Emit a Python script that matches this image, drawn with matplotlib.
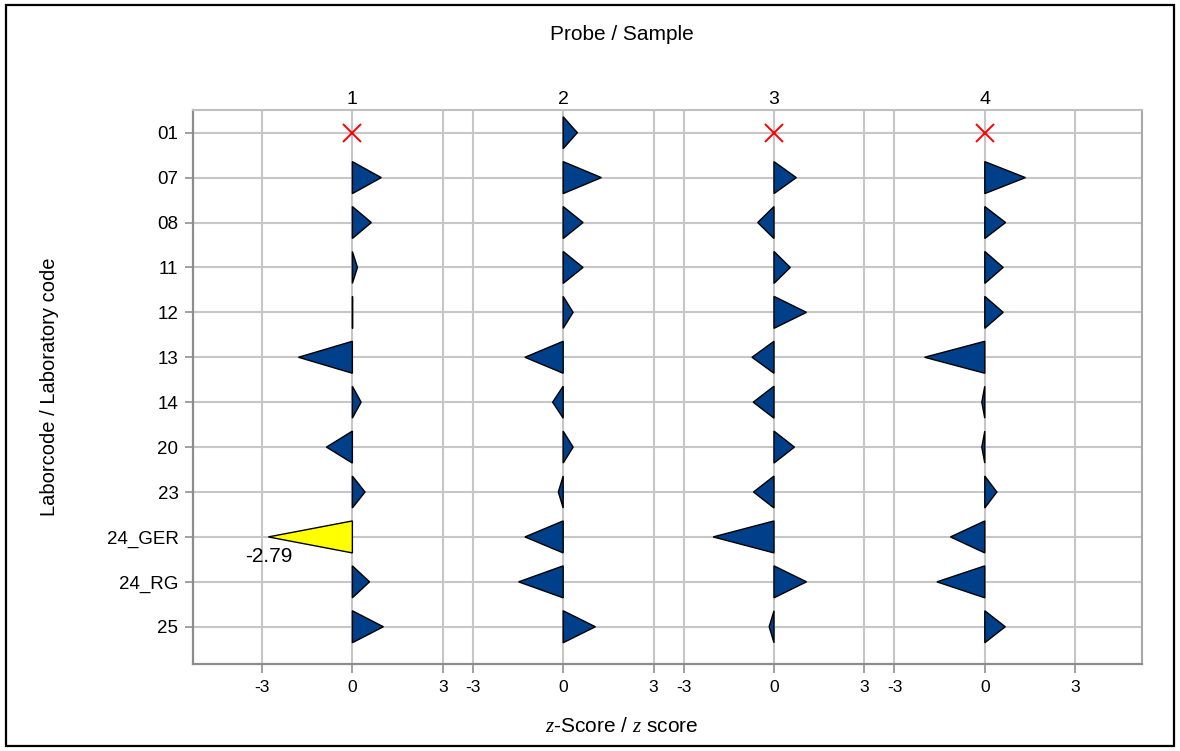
import matplotlib.pyplot as plt
import matplotlib.transforms as mtransforms
from matplotlib.patches import Polygon, Rectangle

plt.rcParams['font.family'] = ['Liberation Sans', 'DejaVu Sans']
plt.rcParams['mathtext.fontset'] = 'custom'
plt.rcParams['mathtext.it'] = 'Liberation Serif:italic'
plt.rcParams['mathtext.rm'] = 'Liberation Sans'

# Labs (rows) and z-scores per probe; None = no result
labs = ["01", "07", "08", "11", "12", "13", "14", "20", "23", "24_GER", "24_RG", "25"]
probes = ["1", "2", "3", "4"]
z_probe1 = [None, 0.96, 0.63, 0.17, 0.0, -1.79, 0.29, -0.86, 0.42, -2.79, 0.57, 1.03]
z_probe2 = [0.47, 1.27, 0.66, 0.66, 0.33, -1.27, -0.35, 0.33, -0.16, -1.27, -1.48, 1.07]
z_probe3 = [None, 0.74, -0.54, 0.54, 1.08, -0.73, -0.69, 0.68, -0.68, -2.02, 1.08, -0.16]
z_probe4 = [None, 1.35, 0.69, 0.61, 0.61, -2.0, -0.1, -0.1, 0.40, -1.14, -1.59, 0.68]
tick_vals = [-3, 0, 3]

scores = [z_probe1, z_probe2, z_probe3, z_probe4]
spacing = 7
half_h = 0.356
flag_limit = 2.5

fig = plt.figure(figsize=(11.8, 7.51), dpi=100)
ax = fig.add_axes([0.1636, 0.1158, 0.8042, 0.7377])

xticks, xlabels = [], []
for i, zs in enumerate(scores):
    off = i * spacing
    for t in tick_vals:
        xticks.append(off + t)
        xlabels.append(str(t))
    for row, z in enumerate(zs):
        if z is None:
            ax.plot(off, row, marker='x', color='red', markersize=13, mew=1.4,
                    zorder=4)
            continue
        face = '#ffff00' if abs(z) > flag_limit else '#003f8a'
        tri = Polygon([(off, row - half_h), (off, row + half_h), (off + z, row)],
                      closed=True, facecolor=face, edgecolor='black', lw=1.0,
                      zorder=3)
        ax.add_patch(tri)
        if abs(z) > flag_limit:
            ax.annotate(f"{z:.2f}", (off + z, row), xytext=(0, -7),
                        textcoords='offset points', ha='center', va='top',
                        fontsize=15, zorder=5)

ax.set_xlim(-5.29, 3 * spacing + 5.22)
ax.set_ylim(len(labs) - 1 + 0.83, -0.505)
ax.set_xticks(xticks)
ax.set_xticklabels(xlabels, fontsize=12.5)
ax.set_yticks(range(len(labs)))
ax.set_yticklabels(labs, fontsize=13.5)
ax.tick_params(axis='x', length=6.5, width=1.3, color='#999999', pad=5)
ax.tick_params(axis='y', length=5.5, width=1.3, color='#999999', pad=5)
ax.grid(True, color='#c6c6c6', lw=1.5, zorder=0)
ax.set_axisbelow(True)

for side in ['left', 'bottom']:
    ax.spines[side].set_color('#8c8c8c')
    ax.spines[side].set_linewidth(1.6)
ax.spines['top'].set_color('#c0c0c0')
ax.spines['top'].set_linewidth(1.5)
ax.spines['right'].set_color('#a8a8a8')
ax.spines['right'].set_linewidth(1.5)

trans = mtransforms.blended_transform_factory(ax.transData, ax.transAxes)
for i, p in enumerate(probes):
    ax.text(i * spacing, 1.003, p, transform=trans, ha='center', va='bottom',
            fontsize=14)

fig.text(622 / 1180, 1 - 35 / 751, "Probe / Sample", ha='center', va='center',
         fontsize=15)
fig.text(622 / 1180, 1 - 727 / 751, "$z$-Score / $z$ score", ha='center',
         va='center', fontsize=15)
fig.text(50 / 1180, 1 - 387 / 751, "Laborcode / Laboratory code", ha='center',
         va='center', rotation=90, fontsize=14.5)

fig.patches.append(Rectangle((6 / 1180, 5 / 751), 1 - 12 / 1180, 1 - 10 / 751,
                             transform=fig.transFigure, fill=False,
                             edgecolor='black', lw=1.6))

fig.savefig("out.png", dpi=100)
